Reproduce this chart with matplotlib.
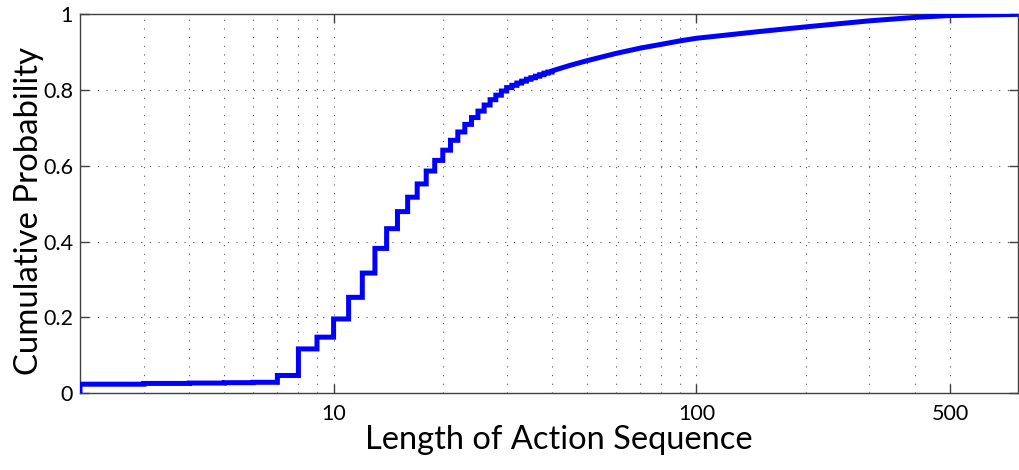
import matplotlib
matplotlib.use("Agg")
import matplotlib.pyplot as plt
from matplotlib.ticker import FixedLocator, NullFormatter

# Empirical CDF of action-sequence length: integer steps for short sequences
step_lengths = [2, 3, 4, 5, 6, 7, 8, 9, 10, 11, 12, 13, 14, 15, 16, 17, 18, 19,
                20, 21, 22, 23, 24, 25, 26, 27, 28, 29, 30, 31, 32, 33, 34, 35,
                36, 37, 38, 39, 40]
step_cdf = [0.024, 0.026, 0.027, 0.028, 0.029, 0.047, 0.117, 0.148, 0.196,
            0.253, 0.317, 0.382, 0.434, 0.479, 0.517, 0.552, 0.586, 0.614,
            0.641, 0.667, 0.689, 0.709, 0.727, 0.744, 0.760, 0.774, 0.786,
            0.797, 0.806, 0.812, 0.818, 0.823, 0.828, 0.832, 0.836, 0.840,
            0.844, 0.847, 0.850]

# Long-sequence tail (steps too fine to resolve)
tail_lengths = [45, 50, 60, 70, 80, 90, 100, 150, 200, 300, 400, 500, 770]
tail_cdf = [0.865, 0.877, 0.896, 0.910, 0.920, 0.929, 0.936, 0.954, 0.966,
            0.982, 0.991, 0.996, 0.999]

x_ticks = [10, 100, 500]
x_tick_labels = ["10", "100", "500"]
y_ticks = [0, 0.2, 0.4, 0.6, 0.8, 1.0]
y_tick_labels = ["0", "0.2", "0.4", "0.6", "0.8", "1"]
x_grid = [3, 4, 5, 6, 7, 8, 9, 10, 20, 30, 40, 50, 60, 70, 80, 90, 100,
          200, 300, 400, 500]

FONT = ["Lato", "DejaVu Sans"]

# build the staircase path followed by the smooth tail
xs = [step_lengths[0]]
ys = [0.0]
for i, (L, p) in enumerate(zip(step_lengths, step_cdf)):
    xs.append(L)
    ys.append(p)
    if i + 1 < len(step_lengths):
        xs.append(step_lengths[i + 1])
        ys.append(p)
xs += tail_lengths
ys += tail_cdf

W, H = 1019, 470
fig = plt.figure(figsize=(W / 100, H / 100), dpi=100)
ax = fig.add_axes([80 / W, (H - 393.3) / H, (1018 - 80) / W, (393.3 - 14) / H])

ax.set_xscale("log")
ax.set_xlim(2, 770)
ax.set_ylim(0, 1)

grid_kw = dict(color="#555555", lw=0.8, linestyle=(0, (1, 6.8)), zorder=1)
for gx in x_grid:
    ax.axvline(gx, **grid_kw)
for gy in y_ticks[1:-1]:
    ax.axhline(gy, **grid_kw)

ax.plot(xs, ys, color="#0000ff", lw=3.6, solid_joinstyle="miter", zorder=3)

ax.xaxis.set_major_locator(FixedLocator(x_ticks))
ax.xaxis.set_minor_locator(FixedLocator([]))
ax.xaxis.set_minor_formatter(NullFormatter())
ax.set_xticks(x_ticks)
ax.set_xticklabels(x_tick_labels)
ax.set_yticks(y_ticks)
ax.set_yticklabels(y_tick_labels)

ax.tick_params(axis="both", which="major", direction="in", length=6.5,
               width=1.0, color="#404040", labelsize=15.5, top=True, right=True)
ax.tick_params(axis="x", pad=8)
ax.tick_params(axis="y", pad=5)
for lab in ax.get_xticklabels() + ax.get_yticklabels():
    lab.set_family(FONT)

for sp in ax.spines.values():
    sp.set_color("#404040")
    sp.set_linewidth(1.0)

ax.set_xlabel("Length of Action Sequence", fontsize=23.5, family=FONT)
ax.set_ylabel("Cumulative Probability", fontsize=23.7, family=FONT)
ax.xaxis.set_label_coords(0.51, -0.083)
ax.yaxis.set_label_coords(-0.038, 0.48)

fig.savefig("out.png", dpi=100)
